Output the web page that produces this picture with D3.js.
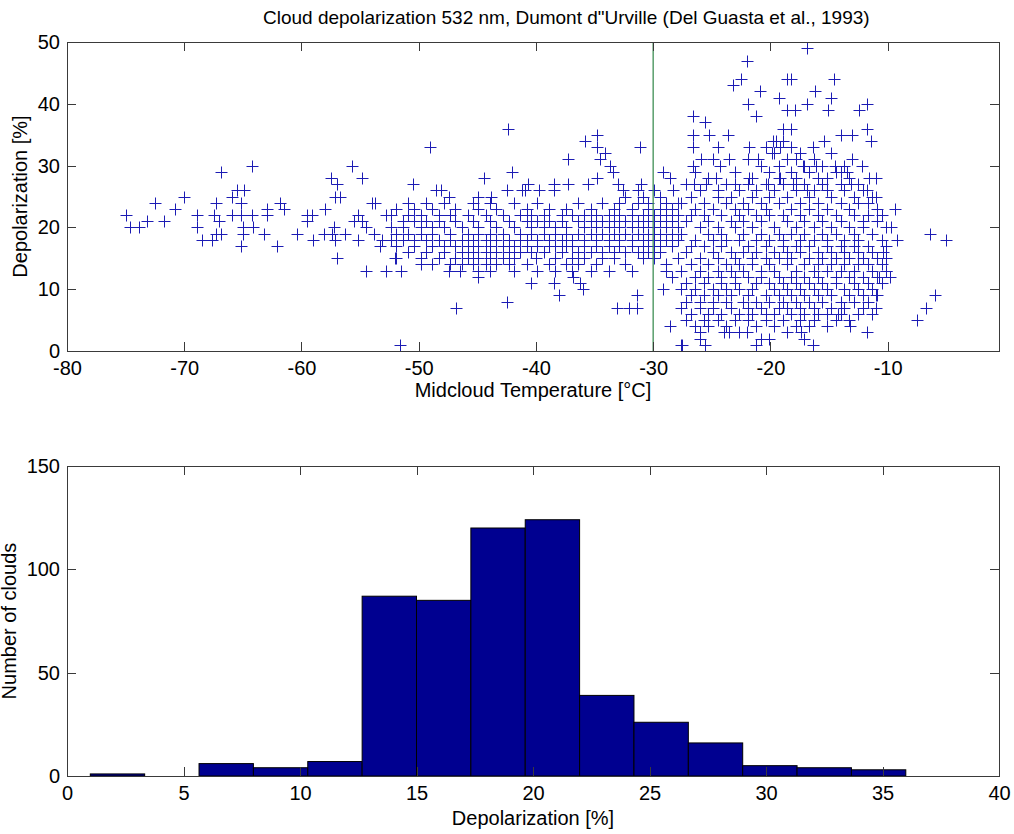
<!DOCTYPE html>
<html>
<head>
<meta charset="utf-8">
<script src="https://cdn.jsdelivr.net/npm/d3@7"></script>
<style>
  body { margin: 0; background: #fff; }
  text { font-family: "Liberation Sans", Arial, sans-serif; fill: #000; }
</style>
</head>
<body>
<script>
// ---- data ----
const chartTitle = "Cloud depolarization 532 nm, Dumont d\"Urville (Del Guasta et al., 1993)";

const tempTicks = [-80, -70, -60, -50, -40, -30, -20, -10];
const depTicks = [0, 10, 20, 30, 40, 50];
const histXTicks = [0, 5, 10, 15, 20, 25, 30, 35, 40];
const histYTicks = [0, 50, 100, 150];

const markerTemp = -30;

// [temperature, depolarization]
const coldPoints = [
  [-75,22],[-74.6,20],[-73.9,20],[-73.2,21],[-72.5,24],[-71.7,21],[-70.8,23],[-70,25],
  [-68.9,22],[-68.9,20],[-68.5,18],[-67.6,18],[-66.9,29],[-67.3,24],[-67.5,22],[-67,21],
  [-66.9,19],[-67.3,19],[-65.9,25],[-65.5,26],[-64.9,26],[-65.2,24],[-65.9,22],[-65.2,22],
  [-64.2,22],[-65,20],[-65,19],[-65.2,17],[-64.1,20],[-64.2,30],[-63.2,19],[-62.9,23],
  [-62.9,22],[-62.1,17],[-61.8,24],[-61.5,23],[-60.4,19],[-59.5,22],[-59.5,21],[-59.1,22],
  [-59,18],[-58.1,19],[-58,23],[-57.5,28],[-57.1,25],[-57,27],[-56.7,25],[-57.2,20],
  [-57.4,19],[-57.1,18],[-57,15],[-56.3,19],[-55.7,30],[-54.8,28],[-55.2,22],[-55.5,21],
  [-54.8,21],[-55.2,18],[-54.5,20],[-54,24],[-53.7,24],[-53.8,19],[-53.1,18],[-53.3,17],
  [-52.8,22],[-54.5,13],[-52.8,13]
];

const midOutliers = [
  [-49,33],[-50.5,27],[-51.6,1],[-46.8,7],[-48.5,26],[-48.1,26],[-47.4,25],[-52,15],
  [-51.5,13],[-44.4,28],[-42.4,36],[-42,29],[-42.5,8],[-44.9,12],[-46.5,13],[-47.4,13],
  [-44.9,25],[-43.8,25],[-42.5,26],[-41.2,26],[-40.7,27],[-40.9,26],[-39.7,26],[-38.5,27],
  [-38.5,26],[-37.3,27],[-37.3,31],[-35.8,34],[-34.8,35],[-34.8,33],[-34.5,31],[-34.1,32],
  [-33.7,30],[-33.4,29],[-35.6,27],[-34.8,28],[-33,27],[-32.6,26],[-31.1,33],[-31,27],
  [-29.2,29],[-28.6,28],[-28.3,26],[-29.2,10],[-28.6,4],[-27.6,1],[-26,3],[-25.6,1],
  [-33.1,7],[-32.1,7],[-31.4,7],[-31.4,9],[-38,9],[-40.4,11],[-36.8,12],[-36,10],
  [-36.2,11],[-38.5,11],[-40,15]
];

// dense band between -52 and -28 C: [temperature, depolarizations]
const midBand = [
  [-52.4,[22,20,18]],[-51.9,[23,19,17,15]],[-51.3,[21,20,18]],[-50.9,[24,22,19,16]],
  [-50.4,[23,21,18,17]],[-49.8,[22,20,19,15,14]],[-49.4,[24,21,18,16]],[-48.9,[23,20,19,17,14]],
  [-48.3,[22,21,18,15]],[-47.8,[24,20,17,16]],[-47.3,[22,19,18,14]],[-46.9,[23,21,17,15]],
  [-46.3,[20,18,16,14]],[-45.8,[22,19,17,15]],[-45.4,[24,21,18,16,14]],[-44.9,[23,20,19,17,15,13]],
  [-44.3,[22,18,16,14]],[-43.9,[24,21,19,17,15,13]],[-43.4,[23,20,18,16,14]],[-42.8,[22,19,17,15]],
  [-42.3,[21,18,16,14]],[-41.9,[24,20,17,15,13]],[-41.4,[22,19,18,16]],[-40.8,[23,21,18,17,14]],
  [-40.4,[22,20,19,16]],[-39.9,[24,21,18,17,13]],[-39.3,[22,20,19,16]],[-38.9,[23,21,18,17,14]],
  [-38.4,[20,19,17,15,13]],[-37.8,[22,21,18,16]],[-37.4,[23,20,19,17,14]],[-36.9,[22,18,17,15,13]],
  [-36.4,[24,21,19,16,14]],[-35.9,[22,20,18,17,15]],[-35.3,[23,21,19,16,13]],[-34.9,[22,20,18,17,14]],
  [-34.4,[24,21,19,16,15]],[-33.8,[22,20,18,17,13]],[-33.3,[23,21,19,16,15]],[-32.9,[24,22,20,18,17]],
  [-32.4,[25,21,19,16,14]],[-31.8,[23,22,20,18,17,13]],[-31.3,[26,24,21,19,16]],[-30.9,[25,22,20,18,17,15]],
  [-30.4,[24,23,21,19,18,16]],[-29.9,[26,22,20,19,18,17,15]],[-29.4,[25,23,21,19,17,16]],[-28.9,[24,22,20,18,14,13]],
  [-28.4,[23,21,19,17,12]],[-27.9,[24,22,20,18,15]]
];

const warmOutliers = [
  [-16.9,49],[-22,47],[-23.2,43],[-22.5,44],[-18.6,44],[-18.2,44],[-14.6,44],[-20.9,42],
  [-16.2,42],[-21.9,40],[-19.3,41],[-14.8,41],[-11.8,40],[-12.4,39],[-16.9,40],[-21.2,38],
  [-18.6,39],[-17.9,39],[-15.1,39],[-26.6,38],[-25.6,37],[-23.6,35],[-11.8,36],[-14,35],
  [-13,35],[-18.9,36],[-18.2,36],[-26.6,35],[-25.2,35],[-24.5,33],[-26.6,33],[-21.8,33],
  [-19.8,34],[-19.5,34],[-16.4,33],[-15.4,34],[-11.4,34],[-25.9,31],[-24.9,31],[-23.5,31],
  [-26.6,30],[-24.3,30],[-21.1,31],[-19.9,32],[-19.2,33],[-17.8,31],[-17.2,30],[-16.1,30],
  [-13,31],[-12.2,30],[-14.5,30],[-14,29],[-13.5,29],[-11.6,28],[-11,28],[-24.6,28],
  [-21.8,28],[-19.2,28],[-15.2,28],[-13.1,27],[-26.5,27],[-25.5,27],[-23,27],[-20.2,27],
  [-18.1,27],[-16.9,26],[-15.2,26],[-11.8,26],[-11,25],[-9.4,23],[-9.7,20],[-9.2,18],
  [-6.4,19],[-5,18],[-10.4,16],[-10.1,13],[-10.7,12],[-9.8,12],[-6,9],[-6.7,7],
  [-7.5,5],[-11,7],[-11.8,3],[-13.2,4],[-14.2,6],[-11,9],[-16.4,1],[-17.4,3],
  [-21.2,1],[-20.1,2],[-20.8,2],[-23.5,3],[-24,3],[-27.5,1],[-22,3]
];

// dense cluster between -28 and -10 C: [temperature, depolarizations]
const warmCluster = [
  [-27.6,[24,19,13,10,7]],[-27.2,[27,21,16,11,8,5]],[-26.8,[25,22,17,14,9,6]],
  [-26.4,[29,23,18,12,10,4]],[-26.0,[26,20,15,13,8,7,2]],[-25.7,[24,22,17,11,9,5]],
  [-25.3,[28,21,19,14,12,6,4]],[-24.9,[23,18,16,10,8,7]],[-24.5,[26,25,20,15,13,9,5]],
  [-24.2,[22,19,17,12,11,6]],[-23.8,[27,24,18,14,10,8,4]],[-23.4,[25,21,16,13,9,7]],
  [-23.0,[29,23,20,15,12,11,5]],[-22.7,[26,22,18,14,10,6,3]],[-22.3,[24,21,19,16,13,8]],
  [-21.9,[31,27,23,17,12,9,7,5]],[-21.6,[28,25,20,15,14,10,6]],[-21.2,[26,22,18,16,11,8,4]],
  [-20.8,[30,24,21,19,13,12,7]],[-20.4,[33,27,23,17,15,9,6,5]],[-20.1,[29,25,22,18,14,11,8]],
  [-19.7,[32,26,20,16,13,10,6,4]],[-19.3,[30,28,24,19,15,12,9,7]],[-18.9,[34,27,22,18,17,11,8,5]],
  [-18.6,[31,25,21,16,14,10,7,3]],[-18.2,[33,29,23,19,15,12,9,6]],[-17.8,[28,26,20,17,13,11,8,4]],
  [-17.5,[32,24,22,18,16,10,7,5]],[-17.1,[30,27,21,19,14,12,9,6,2]],[-16.7,[29,25,23,17,15,11,8,4]],
  [-16.3,[31,26,20,18,13,10,7,5]],[-15.9,[28,24,22,16,14,12,9,6]],[-15.6,[30,27,21,19,15,11,8]],
  [-15.2,[26,23,18,17,13,10,6,4]],[-14.8,[32,25,20,16,14,9,7]],[-14.4,[29,22,19,15,12,11,5]],
  [-14.0,[27,24,21,17,13,8,6]],[-13.7,[30,26,18,16,14,10,7]],[-13.3,[28,23,20,15,12,9,5]],
  [-12.9,[25,22,19,17,13,11,8]],[-12.5,[27,24,18,16,14,10,6]],[-12.1,[26,21,20,15,12,9,7]],
  [-11.7,[24,22,17,14,11,8]],[-11.3,[25,19,16,13,10,6]],[-10.9,[23,21,15,12,9]],
  [-10.5,[22,18,14,11]],[-10.1,[20,17,15,13]]
];

// histogram: 15 bins between 1 and 36 % depolarization
const histRange = [1, 36];
const histCounts = [1, 0, 6, 4, 7, 87, 85, 120, 124, 39, 26, 16, 5, 4, 3];

// ---- layout ----
const width = 1014, height = 834;
const topBox = { left: 67, right: 999, top: 42, bottom: 351 };
const botBox = { left: 67, right: 999, top: 466, bottom: 776 };
const tickLen = 9;
const axisColor = "#3a3a3a";
const markColor = "#1c1cb4";

const svg = d3.select("body").append("svg")
    .attr("width", width)
    .attr("height", height);
svg.append("rect").attr("width", width).attr("height", height).attr("fill", "#fff");

function flatten(cols) {
  const out = [];
  cols.forEach(c => c[1].forEach(v => out.push([c[0], v])));
  return out;
}
const scatter = [].concat(coldPoints, midOutliers, flatten(midBand), warmOutliers, flatten(warmCluster));

const plainFmt = d => String(d);

function drawFrame(box, xScale, yScale, xTicks, yTicks) {
  const g = svg.append("g");
  g.append("g").attr("transform", `translate(0,${box.bottom})`)
    .call(d3.axisBottom(xScale).tickValues(xTicks).tickFormat(plainFmt)
      .tickSizeInner(-tickLen).tickSizeOuter(0).tickPadding(10));
  g.append("g").attr("transform", `translate(0,${box.top})`)
    .call(d3.axisTop(xScale).tickValues(xTicks).tickFormat("")
      .tickSizeInner(-tickLen).tickSizeOuter(0));
  g.append("g").attr("transform", `translate(${box.left},0)`)
    .call(d3.axisLeft(yScale).tickValues(yTicks).tickFormat(plainFmt)
      .tickSizeInner(-tickLen).tickSizeOuter(0).tickPadding(7));
  g.append("g").attr("transform", `translate(${box.right},0)`)
    .call(d3.axisRight(yScale).tickValues(yTicks).tickFormat("")
      .tickSizeInner(-tickLen).tickSizeOuter(0));
  g.selectAll(".domain").remove();
  g.selectAll(".tick line").attr("stroke", axisColor).attr("shape-rendering", "crispEdges");
  g.selectAll(".tick text").style("font-size", "20px")
    .style("font-family", "'Liberation Sans', Arial, sans-serif").attr("fill", "#000");
  g.append("rect")
    .attr("x", box.left).attr("y", box.top)
    .attr("width", box.right - box.left).attr("height", box.bottom - box.top)
    .attr("fill", "none").attr("stroke", axisColor).attr("stroke-width", 1)
    .attr("shape-rendering", "crispEdges");
  return g;
}

// ---- top: scatter ----
const xTemp = d3.scaleLinear().domain([-80, -0.5]).range([topBox.left, topBox.right]);
const yDep = d3.scaleLinear().domain([0, 50]).range([topBox.bottom, topBox.top]);

const arm = 6;
svg.append("g").selectAll("path")
  .data(scatter)
  .join("path")
    .attr("d", d => {
      const x = Math.round(xTemp(d[0])) + 0.5, y = Math.round(yDep(d[1])) + 0.5;
      return `M${x - arm},${y}H${x + arm}M${x},${y - arm}V${y + arm}`;
    })
    .attr("stroke", markColor)
    .attr("stroke-width", 1)
    .attr("fill", "none");

svg.append("line")
  .attr("x1", xTemp(markerTemp)).attr("x2", xTemp(markerTemp))
  .attr("y1", yDep(0)).attr("y2", yDep(50))
  .attr("stroke", "#3f8f55").attr("stroke-width", 1.3);

drawFrame(topBox, xTemp, yDep, tempTicks, depTicks);

svg.append("text")
  .attr("x", 263).attr("y", 24)
  .style("font-size", "19px")
  .text(chartTitle);
svg.append("text")
  .attr("x", (topBox.left + topBox.right) / 2).attr("y", 397)
  .attr("text-anchor", "middle").style("font-size", "20px")
  .text("Midcloud Temperature [°C]");
svg.append("text")
  .attr("transform", `translate(27,${(topBox.top + topBox.bottom) / 2}) rotate(-90)`)
  .attr("text-anchor", "middle").style("font-size", "20px")
  .text("Depolarization [%]");

// ---- bottom: histogram ----
const xHist = d3.scaleLinear().domain([0, 40]).range([botBox.left, botBox.right]);
const yHist = d3.scaleLinear().domain([0, 150]).range([botBox.bottom, botBox.top]);
const binW = (histRange[1] - histRange[0]) / histCounts.length;
const bins = histCounts.map((c, i) => ({ x0: histRange[0] + i * binW, x1: histRange[0] + (i + 1) * binW, n: c }));

svg.append("g").selectAll("rect")
  .data(bins.filter(b => b.n > 0))
  .join("rect")
    .attr("x", d => xHist(d.x0))
    .attr("width", d => xHist(d.x1) - xHist(d.x0))
    .attr("y", d => yHist(d.n))
    .attr("height", d => yHist(0) - yHist(d.n))
    .attr("fill", "#000090")
    .attr("stroke", "#000")
    .attr("stroke-width", 1);

drawFrame(botBox, xHist, yHist, histXTicks, histYTicks);

svg.append("text")
  .attr("x", (botBox.left + botBox.right) / 2).attr("y", 825)
  .attr("text-anchor", "middle").style("font-size", "20px")
  .text("Depolarization [%]");
svg.append("text")
  .attr("transform", `translate(16,${(botBox.top + botBox.bottom) / 2}) rotate(-90)`)
  .attr("text-anchor", "middle").style("font-size", "20px")
  .text("Number of clouds");
</script>
</body>
</html>
